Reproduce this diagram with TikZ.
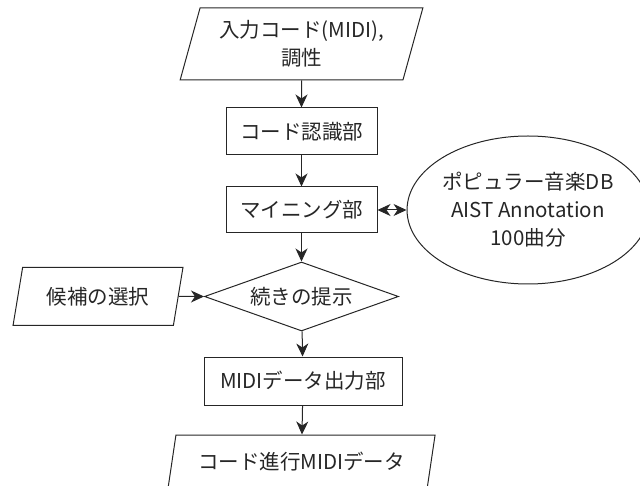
\documentclass[tikz,border=0pt]{standalone}
\usepackage{fontspec}
\setmainfont{Noto Sans CJK JP}
\usetikzlibrary{shapes.geometric,arrows.meta}
\begin{document}
\begin{tikzpicture}[x=1pt,y=1pt,
  every node/.style={font=\fontsize{20.5}{28}\selectfont, text=black!85},
  line/.style={draw=black!85, line width=1pt},
  boxnode/.style={line, rectangle, inner sep=0pt},
  para/.style={line, trapezium, trapezium left angle=71, trapezium right angle=109, trapezium stretches=true, inner sep=0pt, align=center},
  decision/.style={line, diamond, aspect=2.8, inner sep=0pt},
  dbnode/.style={line, ellipse, inner sep=0pt, align=center},
  tip/.tip={Stealth[length=13pt,width=12pt,inset=4pt]},
  arr/.style={line, -tip},
  darr/.style={line, tip-tip}
]
\useasboundingbox (0,0) rectangle (640,-486);
\clip (0,0) rectangle (640,-486);

\node[para, minimum width=243, minimum height=72] (in) at (301.5,-44) {入力コード(MIDI),\\調性};
\node[boxnode, minimum width=151, minimum height=47] (rec) at (301.5,-131.5) {コード認識部};
\node[boxnode, minimum width=151, minimum height=46] (mine) at (301.5,-210) {マイニング部};
\node[dbnode, minimum width=214, minimum height=148] (db) at (528,-210) {ポピュラー音楽DB\\AIST Annotation\\100曲分};
\node[decision, minimum width=194, minimum height=69] (dia) at (301.5,-296.5) {続きの提示};
\node[para, minimum width=170, minimum height=58] (sel) at (98,-296.5) {候補の選択};
\node[boxnode, minimum width=198, minimum height=48] (out) at (303,-381) {MIDIデータ出力部};
\node[para, minimum width=268, minimum height=54] (res) at (301.5,-462) {コード進行MIDIデータ};

\draw[arr] (in) -- (rec);
\draw[arr] (rec) -- (mine);
\draw[darr] (mine) -- (db);
\draw[arr] (mine) -- (dia);
\draw[arr] (sel) -- (dia);
\draw[arr] (dia) -- (out);
\draw[arr] (out) -- (res);
\end{tikzpicture}
\end{document}
